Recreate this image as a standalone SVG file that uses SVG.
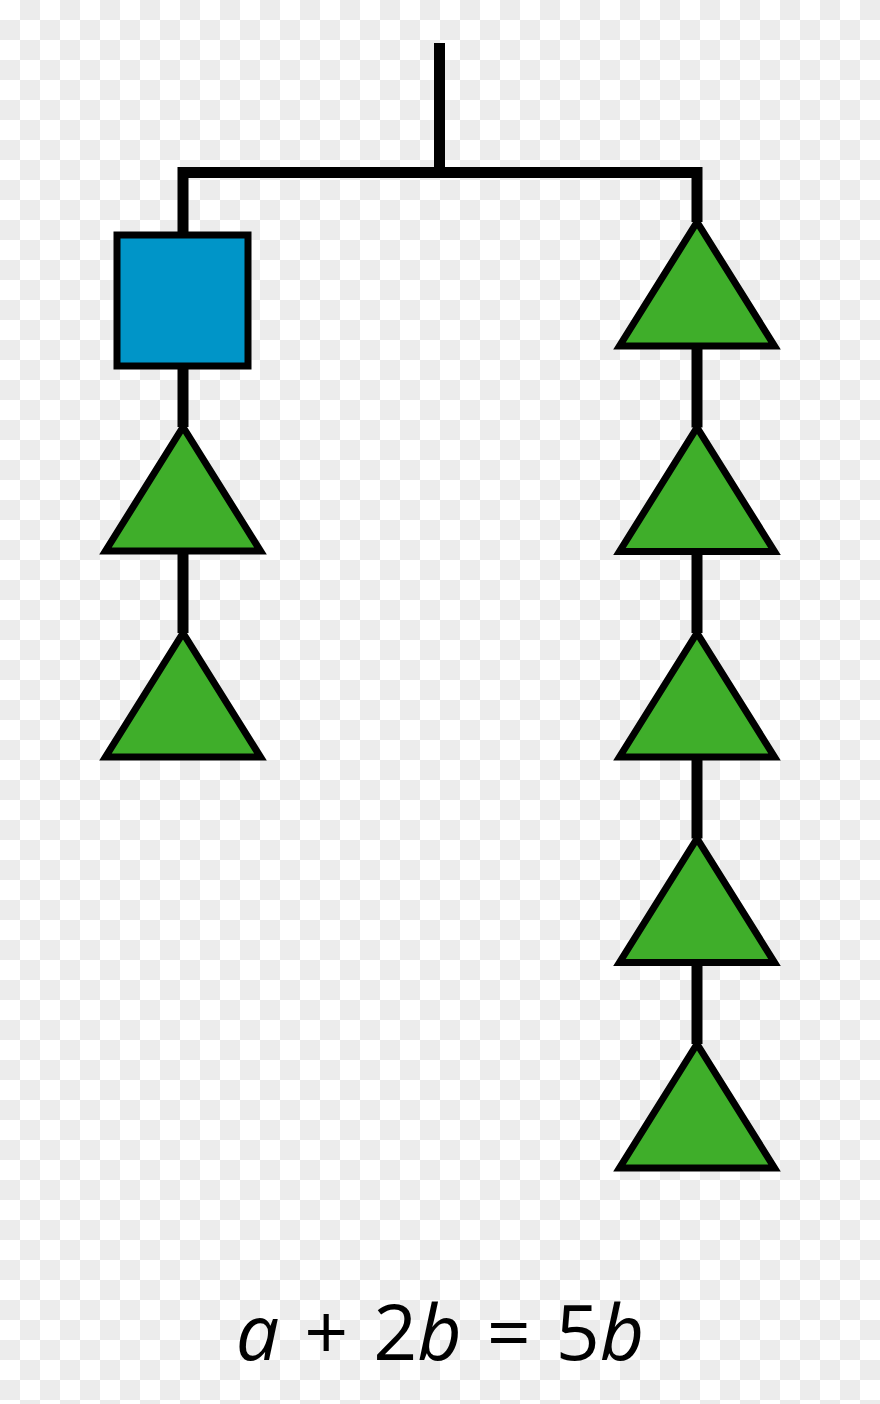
<svg xmlns="http://www.w3.org/2000/svg" width="880" height="1404" viewBox="0 0 880 1404">
  <defs>
    <pattern id="checker" width="40" height="40" patternUnits="userSpaceOnUse">
      <rect width="40" height="40" fill="#ffffff"/>
      <rect x="20" y="0" width="20" height="20" fill="#ececec"/>
      <rect x="0" y="20" width="20" height="20" fill="#ececec"/>
    </pattern>
    <polygon id="tri" points="0,0 -77.5,124 77.5,124"/>
  </defs>
  <style>
    .wire { fill: none; stroke: #000; stroke-width: 11; stroke-linejoin: miter; stroke-linecap: butt; }
    .tri { fill: #3fae2a; stroke: #000; stroke-width: 7; stroke-linejoin: miter; stroke-miterlimit: 10; }
    .sq { fill: #0095c8; stroke: #000; stroke-width: 7; }
    .eq { font-family: "Open Sans", "Noto Sans", sans-serif; font-size: 77px; fill: #000; word-spacing: 5px; }
    .var { font-style: italic; }
  </style>
  <rect width="880" height="1404" fill="url(#checker)"/>
  <g id="connectors">
    <path class="wire" d="M439.5 43 V172.5"/>
    <path class="wire" d="M183 236 V172.5 H697 V222"/>
    <path class="wire" d="M183 366 V427"/>
    <path class="wire" d="M183 551 V633"/>
    <path class="wire" d="M697 346 V427.5"/>
    <path class="wire" d="M697 551.5 V633"/>
    <path class="wire" d="M697 757 V838.5"/>
    <path class="wire" d="M697 962.5 V1044"/>
  </g>
  <g id="left-square"><rect class="sq" x="117" y="235" width="131" height="131"/></g>
  <g id="left-triangle-1"><use href="#tri" class="tri" x="183" y="427"/></g>
  <g id="left-triangle-2"><use href="#tri" class="tri" x="183" y="633"/></g>
  <g id="right-triangle-1"><use href="#tri" class="tri" x="697" y="222"/></g>
  <g id="right-triangle-2"><use href="#tri" class="tri" x="697" y="427.5"/></g>
  <g id="right-triangle-3"><use href="#tri" class="tri" x="697" y="633"/></g>
  <g id="right-triangle-4"><use href="#tri" class="tri" x="697" y="838.5"/></g>
  <g id="right-triangle-5"><use href="#tri" class="tri" x="697" y="1044"/></g>
  <g id="equation">
    <text class="eq" x="440" y="1360" text-anchor="middle"><tspan class="var">a</tspan> + 2<tspan class="var">b</tspan> = 5<tspan class="var">b</tspan></text>
  </g>
</svg>
